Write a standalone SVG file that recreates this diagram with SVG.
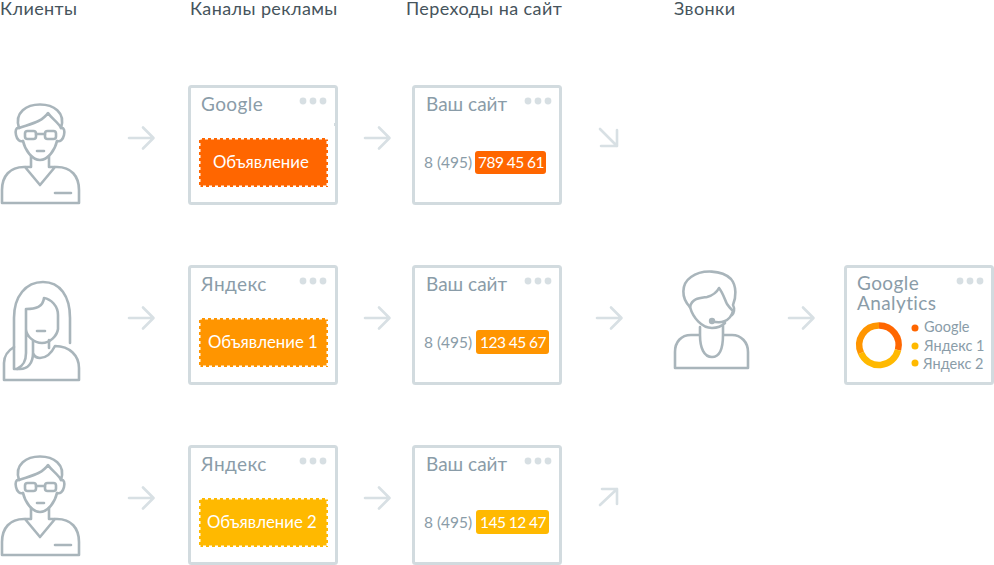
<svg xmlns="http://www.w3.org/2000/svg" width="994" height="565" viewBox="0 0 994 565">
<style>
text{font-family:"Lato","Noto Sans",sans-serif}
.h{font-size:18px;fill:#46545c;letter-spacing:.4px}
.t{font-size:19px;fill:#8a9ca8;letter-spacing:.4px}
.s{font-size:19px;fill:#8a9ca8;letter-spacing:0}
.p{font-size:15.5px;fill:#8a9ca8}
.w{fill:#fff;font-size:16.8px}
.n{fill:#fff;font-size:15.5px;text-anchor:middle;letter-spacing:-.55px}
.l{font-size:14.5px;fill:#8a9ca8}
.card{fill:#fff;stroke:#d2dbdf;stroke-width:3}
.dot{fill:#d7dfe3}
.ic{fill:none;stroke:#a9b5bb;stroke-width:2.6;stroke-linejoin:round;stroke-linecap:round}
.ar{fill:none;stroke:#d8e0e4;stroke-width:2.6;stroke-linecap:round;stroke-linejoin:round}
.edge{fill:none;stroke:#fff;stroke-width:3;stroke-dasharray:3 3}
</style>
<defs>
<g id="dots"><circle cx="0" cy="0" r="3.4" class="dot"/><circle cx="10" cy="0" r="3.4" class="dot"/><circle cx="20" cy="0" r="3.4" class="dot"/></g>
<path id="arrow" class="ar" d="M0 12H24M14 1.500L24.500 12L14 22.500"/>
<g id="man">
<path class="ic" d="M19 128C16 127 15 131 16 135C17 140 20 142 23 141M61 128C64 127 65 131 64 135C63 140 60 142 57 141"/>
<path class="ic" d="M19 128C14 112 27 104.500 40 104.500C53 104.500 66 112 61 128C58 122 52 119 48 113C42 122 30 124 19 128Z"/>
<path class="ic" d="M23 141C25 150 32 160 40 160C48 160 55 150 57 141"/>
<rect class="ic" x="25" y="131" width="11" height="8" rx="2.5"/><rect class="ic" x="45" y="131" width="11" height="8" rx="2.5"/>
<path class="ic" d="M36 134H45M37 151H44M31 156V167H24C10 167 2 176 2 190V203H79V190C79 176 71 167 57 167H49V156M25 167L40 185L55 167M55 193H71"/>
</g>
</defs>

<g id="headers">
<text class="h" x="0" y="15">Клиенты</text>
<text class="h" x="190" y="15">Каналы рекламы</text>
<text class="h" x="406" y="15">Переходы на сайт</text>
<text class="h" x="674" y="15">Звонки</text>
</g>

<g id="connectors">
<use href="#arrow" x="129" y="126"/>
<use href="#arrow" x="129" y="306"/>
<use href="#arrow" x="129" y="486"/>
<use href="#arrow" x="365" y="126"/>
<use href="#arrow" x="365" y="306"/>
<use href="#arrow" x="365" y="486"/>
<use href="#arrow" x="597" y="306"/>
<use href="#arrow" x="789" y="306"/>
<path class="ar" d="M600 129L617 146M617 130V146H601"/>
<path class="ar" d="M600 505L617 489M602 489H617V504"/>
</g>

<g id="client1"><use href="#man"/></g>
<g id="client2">
<path class="ic" d="M14 347V318C14 296 26 282 43 282C60 282 70 296 70 318V343"/>
<path class="ic" d="M26 309C36 309 43 307 44 298C51 299 58 306 58 315V329C57 336 50 343 42 343C34 343 26 336 26 329V309V353C26 362 23 366 17 369"/>
<path class="ic" d="M37 331H45M33 341V353C33 363 28 369 20 369H14V347C9 350 4 355 4 363V380H79V368C79 356 70 346 55 346C52 352 47 358 40 358C36 358 34 356 33 353M49 340V348"/>
</g>
<g id="client3"><use href="#man" y="352"/></g>

<g id="ad1">
<rect class="card" x="189.500" y="86.500" width="147" height="117" rx="2"/>
<rect x="334" y="123" width="1.500" height="3" fill="#d2dbdf"/>
<text class="t" x="201" y="111">Google</text>
<use href="#dots" x="303" y="101"/>
<rect x="199" y="138" width="129" height="49" fill="#ff6600"/>
<rect class="edge" x="199" y="138" width="129" height="49"/>
<text class="w" x="213" y="168">Объявление</text>
</g>
<g id="ad2">
<rect class="card" x="189.500" y="266.500" width="147" height="117" rx="2"/>
<text class="t" x="201" y="291">Яндекс</text>
<use href="#dots" x="303" y="281"/>
<rect x="199" y="318" width="129" height="49" fill="#ff9500"/>
<rect class="edge" x="199" y="318" width="129" height="49"/>
<text class="w" x="208" y="348">Объявление 1</text>
</g>
<g id="ad3">
<rect class="card" x="189.500" y="446.500" width="147" height="117" rx="2"/>
<text class="t" x="201" y="471">Яндекс</text>
<use href="#dots" x="303" y="461"/>
<rect x="199" y="498" width="129" height="49" fill="#ffb900"/>
<rect class="edge" x="199" y="498" width="129" height="49"/>
<text class="w" x="207" y="528">Объявление 2</text>
</g>

<g id="site1">
<rect class="card" x="413.500" y="86.500" width="147" height="117" rx="2"/>
<text class="s" x="426" y="111">Ваш сайт</text>
<use href="#dots" x="528" y="101"/>
<text class="p" x="424" y="168">8 (495)</text>
<rect x="475" y="151" width="71" height="23" rx="3" fill="#ff6600"/>
<text class="n" x="511" y="168">789 45 61</text>
</g>
<g id="site2">
<rect class="card" x="413.500" y="266.500" width="147" height="117" rx="2"/>
<text class="s" x="426" y="291">Ваш сайт</text>
<use href="#dots" x="528" y="281"/>
<text class="p" x="424" y="348">8 (495)</text>
<rect x="476" y="330" width="73" height="24" rx="3" fill="#ff9500"/>
<text class="n" x="513" y="348">123 45 67</text>
</g>
<g id="site3">
<rect class="card" x="413.500" y="446.500" width="147" height="117" rx="2"/>
<text class="s" x="426" y="471">Ваш сайт</text>
<use href="#dots" x="528" y="461"/>
<text class="p" x="424" y="528">8 (495)</text>
<rect x="476" y="510" width="73" height="24" rx="3" fill="#ffb900"/>
<text class="n" x="513" y="528">145 12 47</text>
</g>

<g id="operator">
<path class="ic" d="M690 307C681 298 681 284 691 277C702 269 722 270 731 279C737 286 736 298 733 305C735 309 734 313 732 315"/>
<path class="ic" d="M690 307C692 298 700 298 707 297C714 295 717 292 719 288C723 293 725 300 727 304C729 307 731 309 732 310"/>
<path class="ic" d="M690 307C693 318 702 328 712 328C718 328 722 326 725 323M712 321C720 324 730 322 733 311M700 327V335H691C681 335 675 342 675 352V368H748V352C748 342 741 335 732 335H723V325M700 335C700 348 704 357 712 357C720 357 723 348 723 335"/>
<circle cx="712" cy="321" r="3.200" fill="#a9b5bb"/>
</g>

<g id="analytics">
<rect class="card" x="845.500" y="266.500" width="147" height="117" rx="2"/>
<text class="t" x="857" y="290">Google</text>
<text class="t" x="857" y="310">Analytics</text>
<use href="#dots" x="960" y="281"/>
<g fill="none" stroke-width="6.500">
<path d="M879 325.500A19.500 19.500 0 0 1 898 350" stroke="#ff6600"/>
<path d="M898 350A19.500 19.500 0 0 1 861 353" stroke="#ffb900"/>
<path d="M861 353A19.500 19.500 0 0 1 879 325.500" stroke="#ff9500"/>
</g>
<circle cx="915" cy="328" r="3.500" fill="#ff6600"/>
<circle cx="915" cy="346" r="3.500" fill="#ffb900"/>
<circle cx="915" cy="363" r="3.500" fill="#ffb900"/>
<text class="l" x="924" y="332">Google</text>
<text class="l" x="924" y="351">Яндекс 1</text>
<text class="l" x="923" y="369">Яндекс 2</text>
</g>
</svg>
